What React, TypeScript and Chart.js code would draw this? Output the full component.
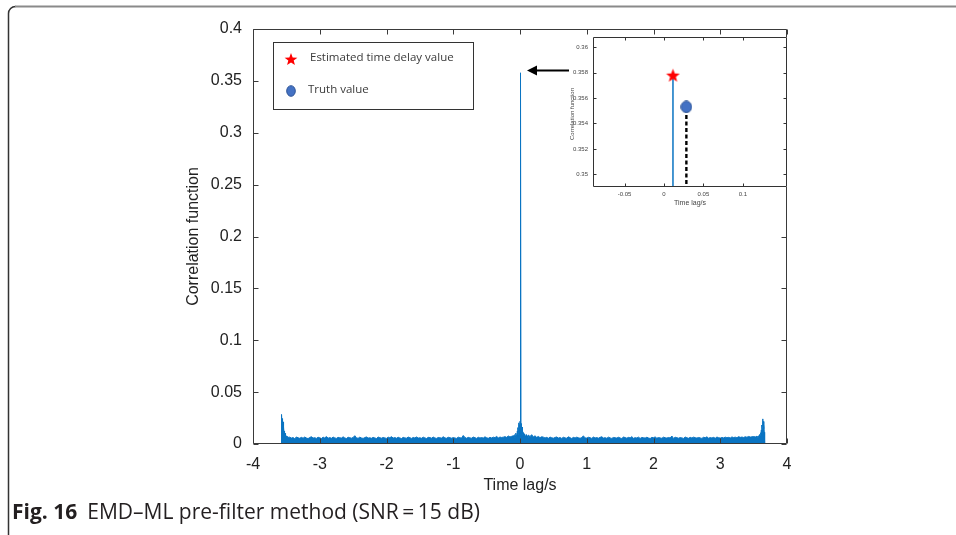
import React, { useEffect, useRef } from 'react';
import { Chart, registerables } from 'chart.js';

Chart.register(...registerables);

// ---------------- data ----------------
const xTickValues = [-4, -3, -2, -1, 0, 1, 2, 3, 4];
const xTickLabels = ['-4', '-3', '-2', '-1', '0', '1', '2', '3', '4'];
const yTickValues = [0, 0.05, 0.1, 0.15, 0.2, 0.25, 0.3, 0.35, 0.4];
const yTickLabels = ['0', '0.05', '0.1', '0.15', '0.2', '0.25', '0.3', '0.35', '0.4'];

// sampling grids (time lag, s)
const leftEdgeStart = -3.58;
const edgeStep = 0.005;
const leftFloorStart = -3.45;
const floorStep = 0.025;
const centerStart = -0.095;
const centerStep = 0.005;
const rightFloorStart = 0.125;
const rightEdgeStart = 3.555;

// correlation values, in units of 1e-3
const leftEdgeMilli = [0, 9.5, 28.5, 15.2, 24.6, 13.1, 21.3, 11.8, 16.4, 9.9, 12.6, 8.4, 10.3, 7.6, 8.9, 6.9, 7.8, 6.3, 7.2, 6.0, 6.8, 5.9, 6.5];
const leftFloorMilli = [
  6.6, 5.7, 6.2, 5.1, 6.8, 6.0, 5.5, 6.4,
  5.6, 6.7, 5.8, 5.2, 6.3, 7.0, 5.7, 6.1, 5.4, 6.5,
  6.0, 5.3, 6.6, 5.8, 7.2, 5.6, 6.2, 5.5, 6.7, 5.9,
  5.4, 6.4, 6.0, 5.7, 6.9, 5.8, 5.3, 6.5, 6.1, 5.6,
  6.3, 8.0, 5.9, 5.5, 6.6, 5.8, 5.4, 6.2, 6.8, 5.7,
  6.0, 5.5, 6.4, 5.8, 5.3, 6.7, 6.1, 5.6, 6.3, 5.9,
  5.4, 6.6, 6.0, 7.1, 5.7, 6.2, 5.5, 6.5, 5.8, 5.3,
  6.4, 5.9, 5.6, 6.7, 6.1, 5.4, 6.3, 5.8, 6.8, 5.7,
  6.0, 5.5, 6.6, 5.9, 5.3, 6.4, 6.2, 5.6, 6.7, 5.8,
  5.4, 6.3, 6.0, 5.7, 7.0, 5.9, 5.5, 6.5, 6.1, 5.6,
  6.2, 5.8, 5.4, 6.6, 6.0, 5.7, 8.2, 6.3, 5.5, 6.4,
  5.9, 5.6, 6.7, 6.1, 5.4, 6.5, 5.8, 6.2, 5.7, 6.9,
  6.0, 5.5, 6.4, 5.8, 6.6, 6.1, 7.3, 5.9, 6.7, 6.3,
  6.6, 7.1, 6.4, 7.7, 6.8, 7.4, 7.9,
];
const centerMilli = [
  6.5, 8.2, 6.0, 9.1, 6.4, 7.8, 6.1, 10.5, 6.8, 8.9,
  7.2, 12.6, 7.5, 15.8, 9.2, 20.4, 11.3, 18.6, 10.2, 21.9,
  13.5, 357.8, 12.8, 19.7, 10.6, 16.4, 9.5, 13.2, 8.4, 11.0,
  7.6, 9.8, 6.9, 8.5, 6.3, 7.7, 6.0, 9.0, 5.9, 7.1,
  6.2, 8.0, 5.8, 6.6,
];
const rightFloorMilli = [
  8.6, 7.2, 9.0, 6.8, 7.9, 6.4, 7.3, 6.1, 7.0, 6.6,
  5.8, 6.4, 5.5, 6.7, 6.0, 5.6, 6.3, 6.8, 5.7, 6.2,
  5.4, 6.5, 5.9, 5.6, 6.9, 6.1, 5.3, 6.4, 5.8, 6.6,
  6.0, 5.5, 6.3, 7.8, 5.9, 5.7, 6.5, 6.1, 5.4, 6.7,
  5.8, 6.2, 5.6, 6.4, 7.0, 5.7, 6.1, 5.5, 6.6, 5.9,
  5.4, 6.3, 6.0, 5.7, 6.5, 5.8, 5.3, 6.7, 6.2, 5.6,
  6.4, 5.9, 7.1, 5.5, 6.1, 5.8, 6.6, 5.4, 6.3, 6.0,
  5.7, 6.5, 5.8, 5.3, 6.4, 6.1, 6.8, 5.6, 6.2, 5.9,
  5.5, 6.6, 6.0, 5.7, 6.3, 5.8, 7.7, 5.4, 6.5, 6.1,
  5.6, 6.2, 5.9, 5.4, 6.7, 6.0, 5.5, 6.4, 5.8, 6.6,
  6.1, 5.7, 6.3, 5.9, 5.4, 6.5, 6.0, 6.9, 5.6, 6.2,
  5.8, 6.4, 5.5, 6.7, 6.1, 5.7, 6.3, 5.9, 6.6, 6.0,
  6.4, 5.8, 6.8, 6.2, 6.6, 6.0, 7.1, 6.4, 6.7, 6.3,
  7.0, 6.5, 7.3, 6.7, 6.9, 7.2, 6.8, 7.5,
];
const rightEdgeMilli = [6.8, 6.1, 7.4, 6.4, 7.8, 6.9, 8.6, 7.2, 9.3, 7.9, 10.8, 9.0, 13.6, 11.2, 18.3, 13.8, 24.2, 17.1, 21.7, 14.8, 19.2, 11.4, 0];

// inset (zoom on the peak)
const insetXTickValues = [-0.05, 0, 0.05, 0.1];
const insetXTickLabels = ['-0.05', '0', '0.05', '0.1'];
const insetYTickValues = [0.35, 0.352, 0.354, 0.356, 0.358, 0.36];
const insetYTickLabels = ['0.35', '0.352', '0.354', '0.356', '0.358', '0.36'];
const estimatedLag = 0.0114;
const estimatedPeak = 0.3578;
const truthLag = 0.0284;
const truthPeak = 0.3553;

const legendLabels = ['Estimated time delay value', 'Truth value'];
const captionBold = 'Fig. 16';
const captionText = 'EMD\u2013ML pre-filter method (SNR\u2009=\u200915 dB)';

// ---------------- styling ----------------
const SANS = '"Liberation Sans", Arial, Helvetica, sans-serif';
const OPEN = '"Open Sans", "Noto Sans", sans-serif';
const BLUE = '#0a74c2';
const AXIS = '#3a3a3a';
const LABEL = '#222222';

function makeStar(size: number, color: string) {
  const c = document.createElement('canvas');
  c.width = size;
  c.height = size;
  const g = c.getContext('2d')!;
  const cx = size / 2;
  const cy = size / 2 + size * 0.05;
  const R = size / 2 - 0.3;
  const r = R * 0.42;
  g.beginPath();
  for (let i = 0; i < 10; i++) {
    const a = -Math.PI / 2 + (i * Math.PI) / 5;
    const rad = i % 2 === 0 ? R : r;
    g.lineTo(cx + rad * Math.cos(a), cy + rad * Math.sin(a));
  }
  g.closePath();
  g.fillStyle = color;
  g.fill();
  return c;
}

function makeEllipse(w: number, h: number, fill: string, stroke: string) {
  const c = document.createElement('canvas');
  c.width = w;
  c.height = h;
  const g = c.getContext('2d')!;
  g.beginPath();
  g.ellipse(w / 2, h / 2, w / 2 - 0.7, h / 2 - 0.7, 0, 0, Math.PI * 2);
  g.fillStyle = fill;
  g.fill();
  g.lineWidth = 1;
  g.strokeStyle = stroke;
  g.stroke();
  return c;
}

function buildSeries() {
  const pts: { x: number; y: number }[] = [];
  leftEdgeMilli.forEach((v, i) => pts.push({ x: leftEdgeStart + i * edgeStep, y: v / 1000 }));
  leftFloorMilli.forEach((v, i) => pts.push({ x: leftFloorStart + i * floorStep, y: v / 1000 }));
  centerMilli.forEach((v, i) => pts.push({ x: centerStart + i * centerStep, y: v / 1000 }));
  rightFloorMilli.forEach((v, i) => pts.push({ x: rightFloorStart + i * floorStep, y: v / 1000 }));
  rightEdgeMilli.forEach((v, i) => pts.push({ x: rightEdgeStart + i * edgeStep, y: v / 1000 }));
  return pts;
}

function boxAndTicks(chart: any, len: number, color: string, xVals: number[], yVals: number[]) {
  const { ctx, chartArea, scales } = chart;
  const L = Math.round(chartArea.left) + 0.5;
  const R = Math.round(chartArea.right) - 0.5;
  const T = Math.round(chartArea.top) + 0.5;
  const B = Math.round(chartArea.bottom) - 0.5;
  ctx.save();
  ctx.strokeStyle = color;
  ctx.lineWidth = 1;
  ctx.beginPath();
  ctx.rect(L, T, R - L, B - T);
  for (const v of xVals) {
    const px = Math.round(scales.x.getPixelForValue(v)) + 0.5;
    ctx.moveTo(px, B);
    ctx.lineTo(px, B - len);
    ctx.moveTo(px, T);
    ctx.lineTo(px, T + len);
  }
  for (const v of yVals) {
    const py = Math.round(scales.y.getPixelForValue(v)) + 0.5;
    ctx.moveTo(L, py);
    ctx.lineTo(L + len, py);
    ctx.moveTo(R, py);
    ctx.lineTo(R - len, py);
  }
  ctx.stroke();
  ctx.restore();
}

export default function App() {
  const mainRef = useRef<HTMLCanvasElement>(null);
  const insetRef = useRef<HTMLCanvasElement>(null);

  useEffect(() => {
    document.body.style.margin = '0';
    const legendStar = makeStar(14, '#FF0000');
    const legendDot = makeEllipse(10, 12, '#4472C4', '#2F5597');
    const insetStar = makeStar(15, '#FF0000');
    const insetDot = makeEllipse(12, 13, '#4472C4', '#2F5597');

    const mainDecor = {
      id: 'mainDecor',
      afterDraw(chart: any) {
        boxAndTicks(chart, 5, AXIS, xTickValues, yTickValues);
        const { ctx, chartArea } = chart;
        ctx.save();
        // axis titles
        ctx.fillStyle = LABEL;
        ctx.font = `16px ${SANS}`;
        ctx.textAlign = 'center';
        ctx.textBaseline = 'middle';
        ctx.fillText('Time lag/s', (chartArea.left + chartArea.right) / 2, 486);
        ctx.save();
        ctx.translate(194, (chartArea.top + chartArea.bottom) / 2);
        ctx.rotate(-Math.PI / 2);
        ctx.fillText('Correlation function', 0, 0);
        ctx.restore();

        // legend box
        ctx.fillStyle = '#ffffff';
        ctx.fillRect(273.5, 42.5, 200, 67);
        ctx.strokeStyle = '#333';
        ctx.lineWidth = 1;
        ctx.strokeRect(273.5, 42.5, 200, 67);
        ctx.drawImage(legendStar, 291 - 7, 59 - 7);
        ctx.drawImage(legendDot, 291 - 5, 91 - 6);
        ctx.fillStyle = '#3a3a3a';
        ctx.font = `11.5px ${OPEN}`;
        ctx.textAlign = 'left';
        ctx.textBaseline = 'middle';
        ctx.fillText(legendLabels[0], 310, 58);
        ctx.fillText(legendLabels[1], 308, 90);

        // arrow
        ctx.strokeStyle = '#000';
        ctx.fillStyle = '#000';
        ctx.lineWidth = 2.2;
        ctx.beginPath();
        ctx.moveTo(569, 70.5);
        ctx.lineTo(535, 70.5);
        ctx.stroke();
        ctx.beginPath();
        ctx.moveTo(527, 70.5);
        ctx.lineTo(537, 65.5);
        ctx.lineTo(537, 75.5);
        ctx.closePath();
        ctx.fill();

        // figure frame
        ctx.lineWidth = 1.5;
        ctx.strokeStyle = '#333';
        ctx.beginPath();
        ctx.moveTo(8.5, 535);
        ctx.lineTo(8.5, 14);
        ctx.arcTo(8.5, 6.5, 16, 6.5, 7);
        ctx.stroke();
        ctx.lineWidth = 2;
        ctx.strokeStyle = '#8a8a8a';
        ctx.beginPath();
        ctx.moveTo(15, 6.5);
        ctx.lineTo(956, 6.5);
        ctx.stroke();

        // caption
        ctx.fillStyle = '#231f20';
        ctx.textBaseline = 'alphabetic';
        ctx.font = `bold 21px ${OPEN}`;
        ctx.fillText(captionBold, 12, 519);
        const w = ctx.measureText(captionBold).width;
        ctx.font = `21px ${OPEN}`;
        ctx.fillText(captionText, 12 + w + 10, 519);
        ctx.restore();
      },
    };

    const main = new Chart(mainRef.current!, {
      type: 'line',
      data: {
        datasets: [
          {
            data: buildSeries(),
            borderColor: BLUE,
            backgroundColor: BLUE,
            borderWidth: 1,
            pointRadius: 0,
            fill: 'origin',
            tension: 0,
          },
        ],
      },
      options: {
        animation: false,
        responsive: false,
        devicePixelRatio: 1,
        layout: { padding: { top: 29, right: 169, left: 0, bottom: 0 } },
        plugins: { legend: { display: false }, tooltip: { enabled: false } },
        scales: {
          x: {
            type: 'linear',
            min: -4,
            max: 4,
            grid: { display: false, drawTicks: false },
            border: { display: false },
            afterBuildTicks: (s: any) => {
              s.ticks = xTickValues.map((v) => ({ value: v }));
            },
            afterFit: (s: any) => {
              s.height = 91;
            },
            ticks: {
              padding: 11,
              color: LABEL,
              font: { family: SANS, size: 16 },
              maxRotation: 0,
              autoSkip: false,
              callback: (_v: any, i: number) => xTickLabels[i],
            },
          },
          y: {
            type: 'linear',
            min: 0,
            max: 0.4,
            grid: { display: false, drawTicks: false },
            border: { display: false },
            afterBuildTicks: (s: any) => {
              s.ticks = yTickValues.map((v) => ({ value: v }));
            },
            afterFit: (s: any) => {
              s.width = 253;
            },
            ticks: {
              padding: 11,
              color: LABEL,
              font: { family: SANS, size: 16 },
              autoSkip: false,
              callback: (_v: any, i: number) => yTickLabels[i],
            },
          },
        },
      },
      plugins: [mainDecor],
    } as any);

    const insetDecor = {
      id: 'insetDecor',
      beforeDraw(chart: any) {
        const { ctx, chartArea } = chart;
        ctx.save();
        ctx.fillStyle = '#ffffff';
        ctx.fillRect(chartArea.left, chartArea.top, chartArea.right - chartArea.left, chartArea.bottom - chartArea.top);
        ctx.restore();
      },
      afterDraw(chart: any) {
        boxAndTicks(chart, 3, '#333', insetXTickValues, insetYTickValues);
        const { ctx, chartArea } = chart;
        ctx.save();
        ctx.fillStyle = '#444';
        ctx.font = `7px ${SANS}`;
        ctx.textAlign = 'center';
        ctx.textBaseline = 'middle';
        ctx.fillText('Time lag/s', (chartArea.left + chartArea.right) / 2, 175);
        ctx.font = `6px ${SANS}`;
        ctx.translate(17, 86);
        ctx.rotate(-Math.PI / 2);
        ctx.fillText('Correlation function', 0, 0);
        ctx.restore();
      },
    };

    const inset = new Chart(insetRef.current!, {
      type: 'scatter',
      data: {
        datasets: [
          { data: [{ x: estimatedLag, y: estimatedPeak }], pointStyle: insetStar as any, pointRadius: 7, showLine: false },
          { data: [{ x: truthLag, y: truthPeak }], pointStyle: insetDot as any, pointRadius: 6, showLine: false },
          {
            data: [
              { x: estimatedLag, y: 0 },
              { x: estimatedLag, y: estimatedPeak },
            ],
            showLine: true,
            borderColor: BLUE,
            borderWidth: 1.5,
            pointRadius: 0,
          },
          {
            data: [
              { x: truthLag, y: 0 },
              { x: truthLag, y: truthPeak },
            ],
            showLine: true,
            borderColor: '#000',
            borderWidth: 2.4,
            borderDash: [4, 2.5],
            pointRadius: 0,
          },
        ],
      },
      options: {
        animation: false,
        responsive: false,
        devicePixelRatio: 1,
        layout: { padding: { top: 9, right: 8, left: 0, bottom: 0 } },
        plugins: { legend: { display: false }, tooltip: { enabled: false } },
        scales: {
          x: {
            type: 'linear',
            min: -0.09,
            max: 0.156,
            grid: { display: false, drawTicks: false },
            border: { display: false },
            afterBuildTicks: (s: any) => {
              s.ticks = insetXTickValues.map((v) => ({ value: v }));
            },
            afterFit: (s: any) => {
              s.height = 33;
            },
            ticks: {
              padding: 4,
              color: '#444',
              font: { family: SANS, size: 6 },
              maxRotation: 0,
              autoSkip: false,
              callback: (_v: any, i: number) => insetXTickLabels[i],
            },
          },
          y: {
            type: 'linear',
            min: 0.349,
            max: 0.3608,
            grid: { display: false, drawTicks: false },
            border: { display: false },
            afterBuildTicks: (s: any) => {
              s.ticks = insetYTickValues.map((v) => ({ value: v }));
            },
            afterFit: (s: any) => {
              s.width = 38;
            },
            ticks: {
              padding: 5,
              color: '#444',
              font: { family: SANS, size: 6 },
              autoSkip: false,
              callback: (_v: any, i: number) => insetYTickLabels[i],
            },
          },
        },
      },
      plugins: [insetDecor],
    } as any);

    return () => {
      main.destroy();
      inset.destroy();
    };
  }, []);

  return (
    <div style={{ position: 'relative', width: 956, height: 535, background: '#ffffff', overflow: 'hidden' }}>
      <canvas ref={mainRef} width={956} height={535} style={{ position: 'absolute', left: 0, top: 0 }} />
      <canvas ref={insetRef} width={240} height={192} style={{ position: 'absolute', left: 555, top: 28 }} />
    </div>
  );
}
